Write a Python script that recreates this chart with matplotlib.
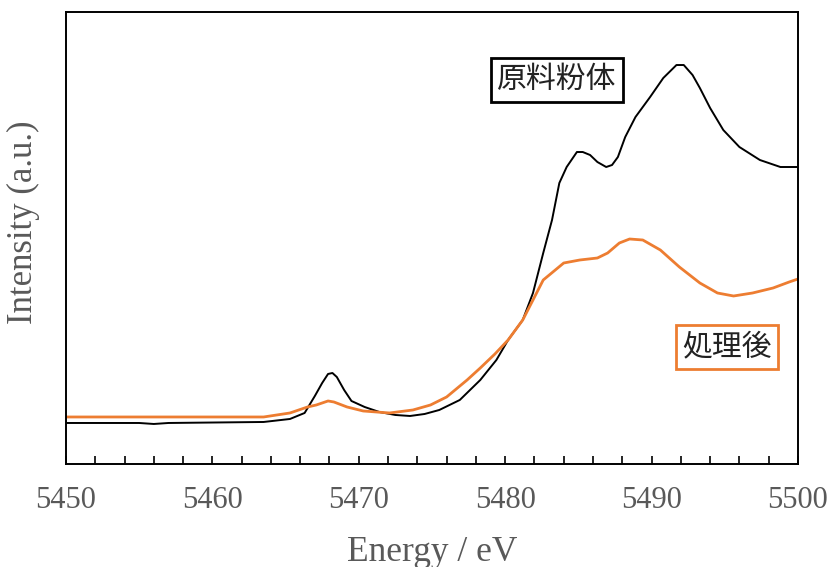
import matplotlib
matplotlib.use("Agg")
import matplotlib.pyplot as plt
from matplotlib.ticker import MultipleLocator

# black: raw powder (原料粉体)
raw_energy = [5450.0, 5455.0, 5456.0, 5457.0, 5463.5, 5465.3, 5466.3, 5467.0, 5467.5,
              5467.9, 5468.2, 5468.5, 5469.0, 5469.5, 5470.4, 5471.4, 5472.5, 5473.5,
              5474.5, 5475.5, 5476.9, 5478.3, 5479.4, 5480.2, 5481.2, 5481.9, 5482.6,
              5483.2, 5483.7, 5484.2, 5484.9, 5485.3, 5485.8, 5486.3, 5486.9, 5487.3,
              5487.7, 5488.2, 5488.9, 5489.9, 5490.8, 5491.7, 5492.2, 5492.8, 5493.3,
              5494.0, 5494.9, 5496.0, 5497.4, 5498.8, 5500.0]
raw_int = [41, 41, 40, 41, 42, 45, 51, 68, 81,
           90, 91, 87, 74, 63, 57, 52, 49, 48,
           50, 54, 64, 84, 104, 124, 144, 171, 211,
           244, 281, 297, 312, 312, 309, 302, 297, 299,
           307, 327, 347, 367, 386, 399, 399, 389, 376,
           356, 334, 317, 304, 297, 297]

# orange: after treatment (処理後)
trt_energy = [5450.0, 5453.0, 5463.5, 5465.3, 5466.5, 5467.1, 5467.9, 5468.3, 5469.2,
              5470.3, 5472.1, 5473.7, 5474.9, 5476.0, 5477.4, 5478.3, 5479.3, 5480.2,
              5481.2, 5482.6, 5484.0, 5485.1, 5486.3, 5487.0, 5487.8, 5488.5, 5489.4,
              5490.6, 5491.9, 5493.3, 5494.5, 5495.6, 5496.9, 5498.3, 5499.4, 5500.0]
trt_int = [47, 47, 47, 51, 57, 59, 63, 62, 57,
           53, 51, 54, 59, 67, 84, 96, 110, 124,
           144, 184, 201, 204, 206, 211, 221, 225, 224,
           214, 197, 181, 171, 168, 171, 176, 182, 185]

xtick_vals = [5450, 5460, 5470, 5480, 5490, 5500]
gray = "#595959"
orange = "#ED7D31"

fig = plt.figure(figsize=(8.3, 5.67), dpi=100)
ax = fig.add_axes([0.0795, 0.1817, 0.8819, 0.7971])

ax.plot(raw_energy, raw_int, color="black", lw=1.4)
ax.plot(trt_energy, trt_int, color=orange, lw=2.0)

ax.set_xlim(5450, 5500)
ax.set_ylim(0, 452)
ax.set_xticks(xtick_vals)
ax.xaxis.set_minor_locator(MultipleLocator(2))
ax.tick_params(axis="x", which="both", direction="in", length=6, width=1.2,
               top=False, labelsize=22, labelcolor=gray, pad=16)
ax.tick_params(axis="y", left=False, labelleft=False)
for lab in ax.get_xticklabels():
    lab.set_family("Liberation Serif")
for s in ax.spines.values():
    s.set_linewidth(1.4)

ax.set_xlabel("Energy / eV", family="Liberation Serif", fontsize=25.5, color=gray, labelpad=15)
ax.set_ylabel("Intensity (a.u.)", family="Liberation Serif", fontsize=25, color=gray)
ax.yaxis.set_label_coords(-0.036, 0.535)

cjk = ["Noto Sans CJK JP", "DejaVu Sans"]
ax.text(0.671, 0.850, "原料粉体", transform=ax.transAxes, ha="center", va="center",
        fontsize=21.5, family=cjk, color="#222222",
        bbox=dict(boxstyle="square,pad=0.22", fc="white", ec="black", lw=2.0))
ax.text(0.903, 0.259, "処理後", transform=ax.transAxes, ha="center", va="center",
        fontsize=21.5, family=cjk, color="#222222",
        bbox=dict(boxstyle="square,pad=0.22", fc="white", ec=orange, lw=2.0))

fig.savefig("out.png", dpi=100)
